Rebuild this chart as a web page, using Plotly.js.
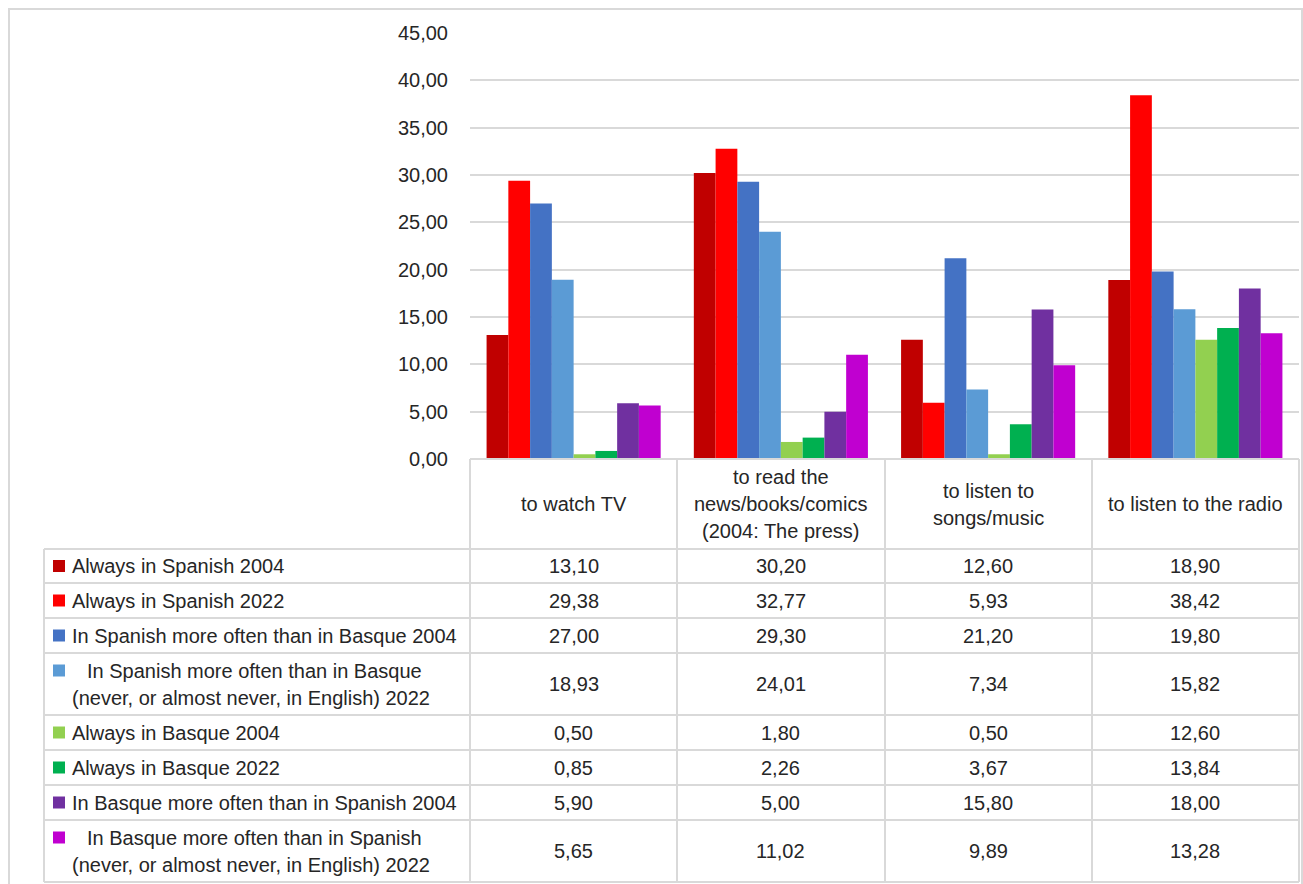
<!DOCTYPE html>
<html>
<head>
<meta charset="utf-8">
<script src="https://cdn.plot.ly/plotly-3.0.1.min.js"></script>
<style>html,body{margin:0;padding:0;background:#fff;}#chart{width:1303px;height:884px;}</style>
</head>
<body>
<div id="chart"></div>
<script>
// ---- data ----
const categories = ['to watch TV', 'to read the news/books/comics (2004: The press)', 'to listen to songs/music', 'to listen to the radio'];
const categoryLines = [['to watch TV'], ['to read the', 'news/books/comics', '(2004: The press)'], ['to listen to', 'songs/music'], ['to listen to the radio']];
const seriesNames = [
  'Always in Spanish 2004',
  'Always in Spanish 2022',
  'In Spanish more often than in Basque 2004',
  'In Spanish more often than in Basque (never, or almost never, in English) 2022',
  'Always in Basque 2004',
  'Always in Basque 2022',
  'In Basque more often than in Spanish 2004',
  'In Basque more often than in Spanish (never, or almost never, in English) 2022'
];
const seriesLabelLines = [
  ['Always in Spanish 2004'],
  ['Always in Spanish 2022'],
  ['In Spanish more often than in Basque 2004'],
  ['  In Spanish more often than in Basque', '(never, or almost never, in English) 2022'],
  ['Always in Basque 2004'],
  ['Always in Basque 2022'],
  ['In Basque more often than in Spanish 2004'],
  ['  In Basque more often than in Spanish', '(never, or almost never, in English) 2022']
];
const alwaysSpanish2004 = [13.10, 30.20, 12.60, 18.90];
const alwaysSpanish2022 = [29.38, 32.77, 5.93, 38.42];
const moreSpanish2004 = [27.00, 29.30, 21.20, 19.80];
const moreSpanish2022 = [18.93, 24.01, 7.34, 15.82];
const alwaysBasque2004 = [0.50, 1.80, 0.50, 12.60];
const alwaysBasque2022 = [0.85, 2.26, 3.67, 13.84];
const moreBasque2004 = [5.90, 5.00, 15.80, 18.00];
const moreBasque2022 = [5.65, 11.02, 9.89, 13.28];
const seriesValues = [alwaysSpanish2004, alwaysSpanish2022, moreSpanish2004, moreSpanish2022,
                      alwaysBasque2004, alwaysBasque2022, moreBasque2004, moreBasque2022];
const colors = ['#C00000', '#FF0000', '#4472C4', '#5B9BD5', '#92D050', '#00B050', '#7030A0', '#C000D0'];
const yTicks = [0, 5, 10, 15, 20, 25, 30, 35, 40, 45];

// ---- geometry (pixels) ----
const W = 1303, H = 884;
const PL = 470, PR = 1299, PT = 33, PB = 459;
const px = p => (p - PL) / (PR - PL);
const py = p => (PB - p) / (PB - PT);
const tableLeft = 44;
const headerBottom = 549;
const rowBounds = [549, 583, 618, 653, 715, 750, 785, 820, 882];
const colBounds = [470, 677, 885, 1092, 1299];
const gridColor = '#D9D9D9';
const textColor = '#262626';
const FONT = 'Liberation Sans, Arial, sans-serif';
const FS = 20;
const LINE = 27;

const traces = seriesNames.map((name, i) => ({
  type: 'bar', name: name, x: categories, y: seriesValues[i],
  marker: {color: colors[i], line: {width: 0}}, hoverinfo: 'name+y'
}));

const shapes = [];
const annotations = [];
function hline(y, x0, x1) {
  shapes.push({type: 'line', xref: 'paper', yref: 'paper', x0: px(x0), x1: px(x1), y0: py(y), y1: py(y),
    line: {color: gridColor, width: 2}});
}
function vline(x, y0, y1) {
  shapes.push({type: 'line', xref: 'paper', yref: 'paper', x0: px(x), x1: px(x), y0: py(y0), y1: py(y1),
    line: {color: gridColor, width: 2}});
}
// outer border
shapes.push({type: 'rect', xref: 'paper', yref: 'paper', x0: px(9), x1: px(1302), y0: py(9), y1: py(900),
  line: {color: gridColor, width: 2}, fillcolor: 'rgba(0,0,0,0)'});
// table lines
hline(PB, PL, PR);
rowBounds.forEach(y => hline(y, tableLeft, PR));
vline(tableLeft, headerBottom, 882);
colBounds.forEach(x => vline(x, PB, 882));

function txt(text, x, y, xanchor, xref) {
  annotations.push({text: text, x: x, y: py(y), xref: xref || 'paper', yref: 'paper',
    xanchor: xanchor, yanchor: 'middle', showarrow: false,
    font: {family: FONT, size: FS, color: textColor}});
}
// header labels
categoryLines.forEach((lines, c) => {
  const mid = (PB + headerBottom) / 2;
  const start = mid - (lines.length - 1) * LINE / 2;
  lines.forEach((l, k) => txt(l, categories[c], start + k * LINE, 'center', 'x'));
});
// rows
seriesNames.forEach((name, r) => {
  const mid = (rowBounds[r] + rowBounds[r + 1]) / 2;
  const lines = seriesLabelLines[r];
  const start = mid - (lines.length - 1) * LINE / 2;
  lines.forEach((l, k) => txt(l.trim(), px(k === 0 && lines.length > 1 ? 85 : 70), start + k * LINE, 'left'));
  shapes.push({type: 'rect', xref: 'paper', yref: 'paper', x0: px(53), x1: px(65),
    y0: py(start - 6), y1: py(start + 6), fillcolor: colors[r], line: {width: 0}});
  seriesValues[r].forEach((v, c) => txt(v.toFixed(2).replace('.', ','), categories[c], mid, 'center', 'x'));
});

const layout = {
  width: W, height: H,
  margin: {l: PL, r: W - PR, t: PT, b: H - PB, pad: 0},
  paper_bgcolor: '#fff', plot_bgcolor: '#fff',
  showlegend: false,
  barmode: 'group', bargap: 0.16, bargroupgap: 0,
  separators: ', ',
  font: {family: FONT, size: FS, color: textColor},
  xaxis: {type: 'category', showticklabels: false, showgrid: false, zeroline: false, showline: false, ticks: ''},
  yaxis: {range: [0, 45], tickvals: yTicks, tickformat: '.2f', showgrid: true, gridcolor: gridColor, gridwidth: 2,
    zeroline: false, showline: false, ticks: 'outside', ticklen: 17, tickcolor: 'rgba(0,0,0,0)',
    tickfont: {family: FONT, size: FS, color: textColor}},
  shapes: shapes,
  annotations: annotations
};
Plotly.newPlot('chart', traces, layout, {displayModeBar: false, staticPlot: true});
</script>
</body>
</html>
